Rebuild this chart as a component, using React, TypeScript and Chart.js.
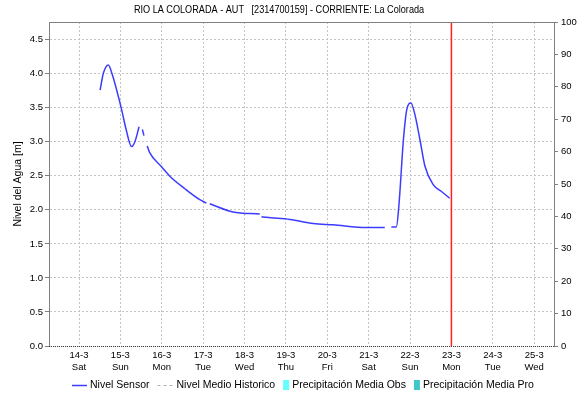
import React, { useEffect, useRef } from 'react';
import { Chart, registerables } from 'chart.js';

Chart.register(...registerables);

const chartTitle = 'RIO LA COLORADA - AUT   [2314700159] - CORRIENTE: La Colorada';
const levelAxisTitle = 'Nivel del Agua [m]';

const dayLabels = ['14-3', '15-3', '16-3', '17-3', '18-3', '19-3', '20-3', '21-3', '22-3', '23-3', '24-3', '25-3'];
const weekdayLabels = ['Sat', 'Sun', 'Mon', 'Tue', 'Wed', 'Thu', 'Fri', 'Sat', 'Sun', 'Mon', 'Tue', 'Wed'];

const axisStart = '13-3 06:36';
const axisEnd = '25-3 11:30';
const nowTime = '23-3 00:00';

const levelTicks = [0, 0.5, 1.0, 1.5, 2.0, 2.5, 3.0, 3.5, 4.0, 4.5];
const levelMax = 4.76;
const precipTicks = [0, 10, 20, 30, 40, 50, 60, 70, 80, 90, 100];

const sensorTimes = [
  '14-3 12:15', '14-3 14:10', '14-3 17:00', '14-3 19:10', '15-3 00:45', '15-3 03:20', '15-3 06:30', '15-3 08:25',
  '15-3 10:50', '15-3 11:45', '15-3 12:45', '15-3 13:40', '15-3 14:40', '15-3 15:35', '15-3 17:00', '16-3 00:00',
  '16-3 04:50', '16-3 13:25', '16-3 22:05', '17-3 01:55', '17-3 02:50', '17-3 03:50', '17-3 17:15', '18-3 08:50',
  '18-3 09:20', '18-3 09:50', '18-3 12:45', '19-3 02:25', '19-3 15:50', '20-3 03:20', '20-3 22:50', '21-3 09:20',
  '21-3 11:10', '21-3 13:10', '21-3 16:05', '21-3 17:30', '21-3 20:10', '21-3 22:05', '22-3 00:30', '22-3 02:50',
  '22-3 05:45', '22-3 08:40', '22-3 13:25', '22-3 18:15', '22-3 23:00',
];
const sensorLevels = [
  3.76, 4.01, 4.13, 4.0, 3.47, 3.18, 2.93, 3.0,
  3.22, null, 3.18, 3.09, null, 2.94, 2.84, 2.63,
  2.49, 2.31, 2.15, 2.1, null, 2.09, 1.97, 1.94,
  null, 1.9, 1.89, 1.86, 1.8, 1.78, 1.74, 1.74,
  null, 1.75, 1.75, 2.05, 3.03, 3.47, 3.57, 3.4,
  3.03, 2.64, 2.37, 2.27, 2.17,
];

const historicTimes: string[] = [];
const historicLevels: number[] = [];
const precipObs: number[] = [];
const precipPro: number[] = [];

const seriesNames = ['Nivel Sensor', 'Nivel Medio Historico', 'Precipitación Media Obs', 'Precipitación Media Pro'];

const FONT = '"Liberation Sans", Arial, sans-serif';

function toDay(s: string): number {
  const [date, time] = s.split(' ');
  const day = parseInt(date.split('-')[0], 10);
  const [hh, mm] = time.split(':').map((t) => parseInt(t, 10));
  return day - 14 + hh / 24 + mm / 1440;
}

const framePlugin = {
  id: 'framePlugin',
  afterDraw(chart: any) {
    const { ctx, chartArea } = chart;
    const { left, right, top, bottom } = chartArea;
    ctx.save();
    ctx.strokeStyle = '#808080';
    ctx.lineWidth = 1;
    ctx.beginPath();
    ctx.moveTo(left, Math.round(top) + 0.5);
    ctx.lineTo(right, Math.round(top) + 0.5);
    ctx.stroke();
    ctx.strokeStyle = '#404040';
    ctx.setLineDash([1, 1]);
    ctx.beginPath();
    ctx.moveTo(left, Math.round(bottom) + 0.5);
    ctx.lineTo(right, Math.round(bottom) + 0.5);
    ctx.stroke();
    ctx.setLineDash([]);

    // title (slightly condensed)
    ctx.save();
    ctx.fillStyle = '#000';
    ctx.font = `11px ${FONT}`;
    ctx.textAlign = 'center';
    ctx.textBaseline = 'middle';
    ctx.translate(279, 10);
    ctx.scale(0.83, 1);
    ctx.fillText(chartTitle, 0, 0);
    ctx.restore();

    // legend
    ctx.font = `10.5px ${FONT}`;
    ctx.textAlign = 'left';
    ctx.textBaseline = 'middle';
    const ly = 385;
    let x = 72;
    const ds = chart.data.datasets;
    for (let i = 0; i < 4; i++) {
      const d = ds[i];
      if (i === 0) {
        ctx.strokeStyle = d.borderColor;
        ctx.lineWidth = 1.5;
        ctx.beginPath();
        ctx.moveTo(x, ly + 0.5);
        ctx.lineTo(x + 15, ly + 0.5);
        ctx.stroke();
        x += 18;
      } else if (i === 1) {
        ctx.strokeStyle = d.borderColor;
        ctx.lineWidth = 1;
        ctx.setLineDash([3, 3]);
        ctx.beginPath();
        ctx.moveTo(x, ly + 0.5);
        ctx.lineTo(x + 15, ly + 0.5);
        ctx.stroke();
        ctx.setLineDash([]);
        x += 19;
      } else {
        ctx.fillStyle = d.backgroundColor;
        ctx.fillRect(x, ly - 5, 6, 10);
        x += 9;
      }
      ctx.fillStyle = '#000';
      ctx.fillText(seriesNames[i], x, ly);
      x += ctx.measureText(seriesNames[i]).width + 8;
    }
    ctx.restore();
  },
};

export default function App() {
  const ref = useRef<HTMLCanvasElement | null>(null);
  useEffect(() => {
    if (!ref.current) return;
    const sensorData = sensorTimes.map((t, i) => ({ x: toDay(t), y: sensorLevels[i] }));
    const historicData = historicTimes.map((t, i) => ({ x: toDay(t), y: historicLevels[i] }));
    const nowX = toDay(nowTime);
    const tickFont = { family: FONT, size: 9.5 };
    const chart = new Chart(ref.current, {
      type: 'line',
      data: {
        datasets: [
          {
            label: seriesNames[0],
            data: sensorData as any,
            borderColor: '#3c3cff',
            backgroundColor: '#3c3cff',
            borderWidth: 1.5,
            pointRadius: 0,
            spanGaps: false,
            cubicInterpolationMode: 'monotone',
            yAxisID: 'y',
          },
          {
            label: seriesNames[1],
            data: historicData as any,
            borderColor: '#b0b0b0',
            borderDash: [3, 3],
            borderWidth: 1,
            pointRadius: 0,
            yAxisID: 'y',
          },
          {
            type: 'bar',
            label: seriesNames[2],
            data: precipObs as any,
            backgroundColor: '#66ffff',
            yAxisID: 'y2',
          } as any,
          {
            type: 'bar',
            label: seriesNames[3],
            data: precipPro as any,
            backgroundColor: '#40c8c8',
            yAxisID: 'y2',
          } as any,
          {
            label: 'now',
            data: [{ x: nowX, y: 0 }, { x: nowX, y: levelMax }],
            borderColor: '#ff2020',
            borderWidth: 1.5,
            pointRadius: 0,
            yAxisID: 'y',
          },
        ],
      },
      options: {
        animation: false,
        responsive: false,
        events: [],
        layout: { padding: { top: 22, left: 0, right: 0, bottom: 0 } },
        plugins: {
          legend: { display: false },
          title: { display: false },
          tooltip: { enabled: false },
        },
        scales: {
          x: {
            type: 'linear',
            offset: false,
            min: toDay(axisStart),
            max: toDay(axisEnd),
            afterBuildTicks: (s: any) => {
              s.ticks = dayLabels.map((_, i) => ({ value: i }));
            },
            afterFit: (s: any) => {
              s.height = 55;
            },
            ticks: {
              autoSkip: false,
              maxRotation: 0,
              color: '#000',
              font: tickFont,
              padding: 4,
              callback: (_v: any, i: number) => [dayLabels[i], weekdayLabels[i]],
            },
            grid: { color: '#c4c4c4', drawTicks: false, lineWidth: 1, offset: false },
            border: { display: false, dash: [2, 2] },
          },
          y: {
            position: 'left',
            min: 0,
            max: levelMax,
            afterBuildTicks: (s: any) => {
              s.ticks = levelTicks.map((v) => ({ value: v }));
            },
            afterFit: (s: any) => {
              s.width = 49;
            },
            ticks: {
              color: '#000',
              font: tickFont,
              padding: 2,
              callback: (v: any) => Number(v).toFixed(1),
            },
            grid: { color: '#c4c4c4', tickColor: '#808080', tickLength: 4, lineWidth: 1 },
            border: { color: '#808080', width: 1, dash: [2, 2] },
            title: {
              display: true,
              text: levelAxisTitle,
              color: '#000',
              font: { family: FONT, size: 10.5 },
              padding: { top: 12, bottom: 0 },
            },
          },
          y2: {
            position: 'right',
            min: 0,
            max: 100,
            afterBuildTicks: (s: any) => {
              s.ticks = precipTicks.map((v) => ({ value: v }));
            },
            afterFit: (s: any) => {
              s.width = 25;
            },
            ticks: {
              color: '#000',
              font: tickFont,
              padding: 3,
            },
            grid: { drawOnChartArea: false, tickColor: '#808080', tickLength: 4 },
            border: { color: '#808080', width: 1 },
          },
        },
      } as any,
      plugins: [framePlugin],
    });
    return () => chart.destroy();
  }, []);

  return (
    <div style={{ position: 'fixed', left: 0, top: 0, width: 579, height: 401, background: '#fff' }}>
      <canvas ref={ref} width={579} height={401} />
    </div>
  );
}
